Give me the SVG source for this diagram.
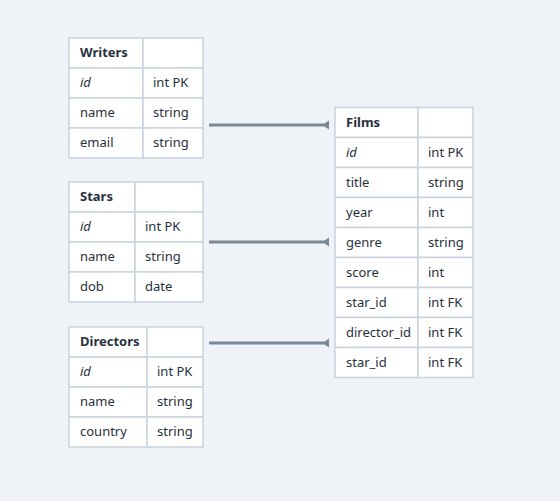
<svg xmlns="http://www.w3.org/2000/svg" width="560" height="501" viewBox="0 0 560 501">
<defs>
<style>
.bg{fill:#eff3f7}
.cell{fill:#ffffff;stroke:#c9d4de;stroke-width:1.5}
.t{font-family:"Noto Sans","Liberation Sans",sans-serif;font-size:13px;fill:#27313d}
.h{font-weight:bold}
.i{font-style:italic}
.c{stroke:#7b8895;stroke-width:3;fill:none}
.a{fill:#7b8895}
</style>
</defs>
<rect class="bg" x="0" y="0" width="560" height="501"/>
<g id="writers">
<rect class="cell" x="69" y="38" width="74" height="30"/><rect class="cell" x="143" y="38" width="60" height="30"/>
<rect class="cell" x="69" y="68" width="74" height="30"/><rect class="cell" x="143" y="68" width="60" height="30"/>
<rect class="cell" x="69" y="98" width="74" height="30"/><rect class="cell" x="143" y="98" width="60" height="30"/>
<rect class="cell" x="69" y="128" width="74" height="30"/><rect class="cell" x="143" y="128" width="60" height="30"/>
<text class="t h" x="80" y="57">Writers</text>
<text class="t i" x="80" y="87">id</text><text class="t" x="153" y="87">int PK</text>
<text class="t" x="80" y="117">name</text><text class="t" x="153" y="117">string</text>
<text class="t" x="80" y="147">email</text><text class="t" x="153" y="147">string</text>
</g>
<g id="stars">
<rect class="cell" x="69" y="182" width="66" height="30"/><rect class="cell" x="135" y="182" width="68" height="30"/>
<rect class="cell" x="69" y="212" width="66" height="30"/><rect class="cell" x="135" y="212" width="68" height="30"/>
<rect class="cell" x="69" y="242" width="66" height="30"/><rect class="cell" x="135" y="242" width="68" height="30"/>
<rect class="cell" x="69" y="272" width="66" height="30"/><rect class="cell" x="135" y="272" width="68" height="30"/>
<text class="t h" x="80" y="201">Stars</text>
<text class="t i" x="80" y="231">id</text><text class="t" x="145" y="231">int PK</text>
<text class="t" x="80" y="261">name</text><text class="t" x="145" y="261">string</text>
<text class="t" x="80" y="291">dob</text><text class="t" x="145" y="291">date</text>
</g>
<g id="directors">
<rect class="cell" x="69" y="327" width="78" height="30"/><rect class="cell" x="147" y="327" width="56" height="30"/>
<rect class="cell" x="69" y="357" width="78" height="30"/><rect class="cell" x="147" y="357" width="56" height="30"/>
<rect class="cell" x="69" y="387" width="78" height="30"/><rect class="cell" x="147" y="387" width="56" height="30"/>
<rect class="cell" x="69" y="417" width="78" height="30"/><rect class="cell" x="147" y="417" width="56" height="30"/>
<text class="t h" x="80" y="346">Directors</text>
<text class="t i" x="80" y="376">id</text><text class="t" x="157" y="376">int PK</text>
<text class="t" x="80" y="406">name</text><text class="t" x="157" y="406">string</text>
<text class="t" x="80" y="436">country</text><text class="t" x="157" y="436">string</text>
</g>
<g id="films">
<rect class="cell" x="335" y="107.5" width="83" height="30"/><rect class="cell" x="418" y="107.5" width="55" height="30"/>
<rect class="cell" x="335" y="137.5" width="83" height="30"/><rect class="cell" x="418" y="137.5" width="55" height="30"/>
<rect class="cell" x="335" y="167.5" width="83" height="30"/><rect class="cell" x="418" y="167.5" width="55" height="30"/>
<rect class="cell" x="335" y="197.5" width="83" height="30"/><rect class="cell" x="418" y="197.5" width="55" height="30"/>
<rect class="cell" x="335" y="227.5" width="83" height="30"/><rect class="cell" x="418" y="227.5" width="55" height="30"/>
<rect class="cell" x="335" y="257.5" width="83" height="30"/><rect class="cell" x="418" y="257.5" width="55" height="30"/>
<rect class="cell" x="335" y="287.5" width="83" height="30"/><rect class="cell" x="418" y="287.5" width="55" height="30"/>
<rect class="cell" x="335" y="317.5" width="83" height="30"/><rect class="cell" x="418" y="317.5" width="55" height="30"/>
<rect class="cell" x="335" y="347.5" width="83" height="30"/><rect class="cell" x="418" y="347.5" width="55" height="30"/>
<text class="t h" x="346" y="127">Films</text>
<text class="t i" x="346" y="157">id</text><text class="t" x="428" y="157">int PK</text>
<text class="t" x="346" y="187">title</text><text class="t" x="428" y="187">string</text>
<text class="t" x="346" y="217">year</text><text class="t" x="428" y="217">int</text>
<text class="t" x="346" y="247">genre</text><text class="t" x="428" y="247">string</text>
<text class="t" x="346" y="277">score</text><text class="t" x="428" y="277">int</text>
<text class="t" x="346" y="307">star_id</text><text class="t" x="428" y="307">int FK</text>
<text class="t" x="346" y="337">director_id</text><text class="t" x="428" y="337">int FK</text>
<text class="t" x="346" y="367">star_id</text><text class="t" x="428" y="367">int FK</text>
</g>
<g id="connectors">
<line class="c" x1="209" y1="125" x2="324" y2="125"/><polygon class="a" points="322,125 329,120.5 329,129.5"/>
<line class="c" x1="209" y1="242" x2="324" y2="242"/><polygon class="a" points="322,242 329,237.5 329,246.5"/>
<line class="c" x1="209" y1="343" x2="324" y2="343"/><polygon class="a" points="322,343 329,338.5 329,347.5"/>
</g>
</svg>
